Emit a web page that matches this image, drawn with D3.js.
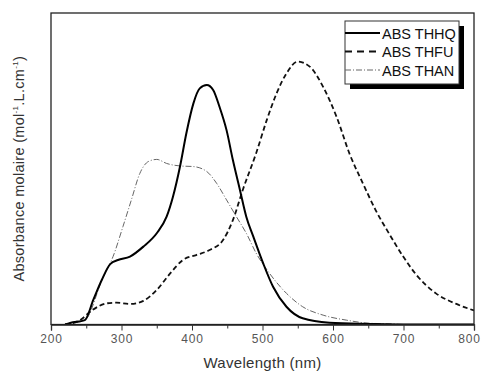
<!DOCTYPE html>
<html>
<head>
<meta charset="utf-8">
<script src="https://cdn.jsdelivr.net/npm/d3@7"></script>
<style>
  body { margin: 0; background: #fff; }
  text { font-family: "Liberation Sans", Arial, sans-serif; }
</style>
</head>
<body>
<script>
var width = 484,
    height = 371;

// wavelength (nm) and absorbance (arbitrary units)
var thhqX = [220, 227, 248, 260, 272, 284, 295, 312, 331, 350, 364, 373, 383, 392, 402, 411, 421, 430, 439, 449, 458, 468, 477, 487, 501, 515, 534, 557, 595, 652, 700, 800];
var thhqY = [0, .005, .014, .079, .143, .194, .207, .218, .250, .293, .346, .410, .507, .614, .710, .758, .769, .753, .699, .624, .528, .432, .346, .282, .196, .121, .057, .020, .006, .002, 0, 0];

var thfuX = [220, 230, 241, 259, 279, 293, 312, 331, 350, 369, 387, 406, 425, 444, 458, 472, 491, 506, 520, 534, 550, 567, 586, 605, 624, 642, 661, 680, 699, 718, 746, 775, 800];
var thfuY = [0, .004, .014, .047, .068, .070, .066, .076, .111, .164, .207, .223, .239, .271, .335, .432, .550, .656, .742, .806, .844, .828, .763, .667, .545, .455, .365, .290, .220, .160, .100, .066, .045];

var thanX = [220, 230, 248, 274, 288, 302, 314, 326, 338, 350, 364, 383, 402, 421, 435, 449, 463, 477, 491, 510, 534, 557, 586, 619, 652, 684, 700];
var thanY = [0, .004, .014, .153, .218, .314, .400, .485, .523, .530, .517, .509, .507, .491, .453, .400, .346, .293, .229, .164, .100, .057, .030, .014, .004, .002, 0];

var seriesNames = ['ABS THHQ', 'ABS THFU', 'ABS THAN'];
var xTicks = [200, 300, 400, 500, 600, 700, 800];
var xMinorTicks = [250, 350, 450, 550, 650, 750];

var styles = [
  { stroke: '#000', width: 2, dash: null, legendDash: null },
  { stroke: '#111', width: 1.8, dash: '5,3', legendDash: '7,5' },
  { stroke: '#666', width: 1, dash: '6,2,1,2', legendDash: '6,2,1,2' }
];

var margin = { left: 51, right: 10, top: 13, bottom: 46.5 };

var svg = d3.select('body').append('svg')
    .attr('xmlns', 'http://www.w3.org/2000/svg')
    .attr('width', width)
    .attr('height', height);

var x = d3.scaleLinear().domain([200, 800]).range([margin.left, width - margin.right]);
var y = d3.scaleLinear().domain([0, 1]).range([height - margin.bottom, margin.top]);

svg.append('clipPath').attr('id', 'plot')
  .append('rect')
    .attr('x', x(200)).attr('y', y(1))
    .attr('width', x(800) - x(200)).attr('height', y(0) - y(1));

var line = d3.line()
    .x(function(d) { return x(d[0]); })
    .y(function(d) { return y(d[1]); })
    .curve(d3.curveMonotoneX);

var allData = [d3.zip(thhqX, thhqY), d3.zip(thfuX, thfuY), d3.zip(thanX, thanY)];

// draw the curves, the lighter one first
[2, 1, 0].forEach(function(i) {
  svg.append('path')
      .attr('clip-path', 'url(#plot)')
      .attr('d', line(allData[i]))
      .attr('fill', 'none')
      .attr('stroke', styles[i].stroke)
      .attr('stroke-width', styles[i].width)
      .attr('stroke-dasharray', styles[i].dash)
      .attr('stroke-linejoin', 'round');
});

// frame
svg.append('rect')
    .attr('x', x(200)).attr('y', y(1))
    .attr('width', x(800) - x(200)).attr('height', y(0) - y(1))
    .attr('fill', 'none')
    .attr('stroke', '#222')
    .attr('stroke-width', 1.3);

// x axis
var xAxis = svg.append('g')
    .attr('transform', 'translate(0,' + y(0) + ')')
    .call(d3.axisBottom(x).tickValues(xTicks).tickSize(6).tickPadding(4).tickFormat(d3.format('d')));
xAxis.select('.domain').attr('stroke', '#222').attr('stroke-width', 1.3);
xAxis.selectAll('.tick line').attr('stroke', '#333');
xAxis.selectAll('.tick text')
    .attr('fill', '#555')
    .style('font-size', '12px')
    .style('letter-spacing', '0.8px')
    .style('font-family', '"Liberation Sans", Arial, sans-serif');
// last label pulled in so it stays inside the window
xAxis.selectAll('.tick text').filter(function(d) { return d === 800; })
    .attr('dx', -5);

svg.append('g')
    .attr('transform', 'translate(0,' + y(0) + ')')
    .call(d3.axisBottom(x).tickValues(xMinorTicks).tickSize(4).tickFormat(''))
  .call(function(g) {
    g.select('.domain').remove();
    g.selectAll('.tick line').attr('stroke', '#333');
  });

// axis titles
svg.append('text')
    .attr('x', (x(200) + x(800)) / 2)
    .attr('y', 368)
    .attr('text-anchor', 'middle')
    .attr('fill', '#333')
    .style('font-size', '15px')
    .style('letter-spacing', '0.3px')
    .text('Wavelength (nm)');

var yTitle = svg.append('text')
    .attr('transform', 'translate(24,' + ((y(0) + y(1)) / 2) + ') rotate(-90)')
    .attr('text-anchor', 'middle')
    .attr('fill', '#333')
    .style('font-size', '14.5px')
    .style('letter-spacing', '0.3px');
yTitle.append('tspan').text('Absorbance molaire (mol');
yTitle.append('tspan').attr('dy', -6).style('font-size', '8px').text('-1');
yTitle.append('tspan').attr('dy', 6).text('.L.cm');
yTitle.append('tspan').attr('dy', -6).style('font-size', '8px').text('-1');
yTitle.append('tspan').attr('dy', 6).text(')');

// legend with drop shadow
var legend = svg.append('g').attr('transform', 'translate(345,21)');
legend.append('rect')
    .attr('x', 5).attr('y', 5).attr('width', 114).attr('height', 63)
    .attr('fill', '#000');
legend.append('rect')
    .attr('width', 114).attr('height', 63)
    .attr('fill', '#fff')
    .attr('stroke', '#333')
    .attr('stroke-width', 1);

var rows = legend.selectAll('g.row')
    .data(seriesNames)
  .enter().append('g')
    .attr('class', 'row')
    .attr('transform', function(d, i) { return 'translate(0,' + (12 + i * 18.5) + ')'; });

rows.append('line')
    .attr('x1', 0).attr('x2', 35)
    .attr('stroke', function(d, i) { return styles[i].stroke; })
    .attr('stroke-width', function(d, i) { return styles[i].width; })
    .attr('stroke-dasharray', function(d, i) { return styles[i].legendDash; });

rows.append('text')
    .attr('x', 37)
    .attr('y', 5.5)
    .attr('fill', '#111')
    .style('font-size', '14.5px')
    .text(function(d) { return d; });
</script>
</body>
</html>
